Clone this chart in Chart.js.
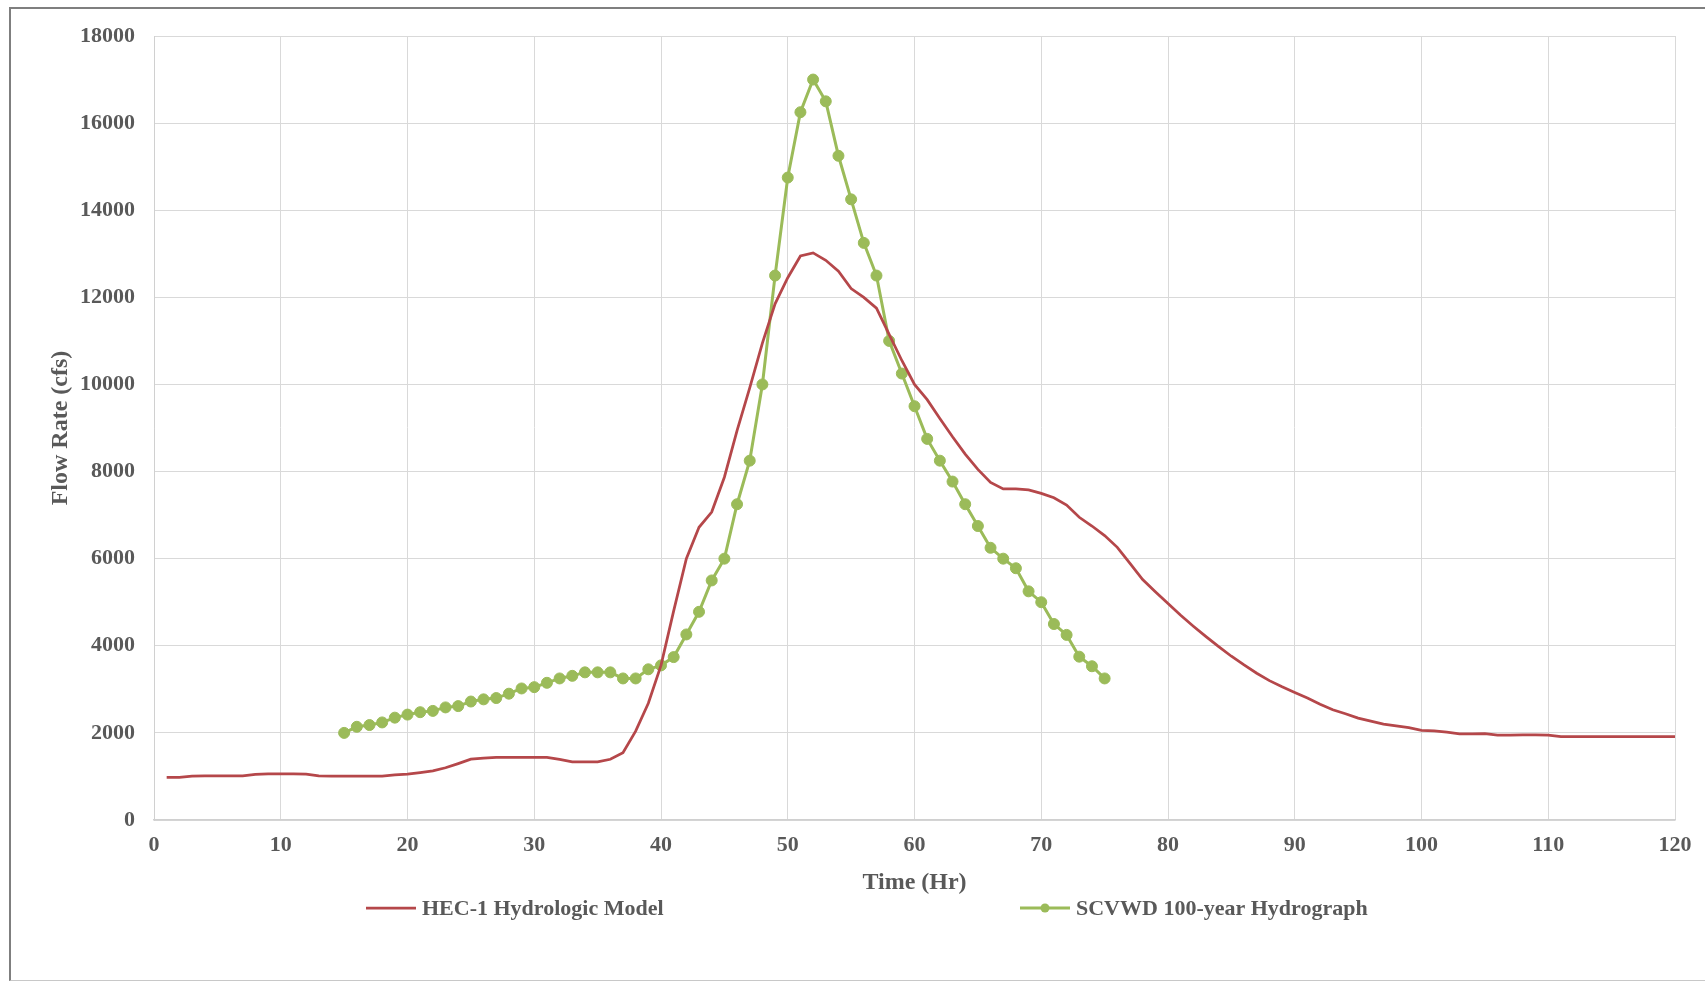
<!DOCTYPE html>
<html>
<head>
<meta charset="utf-8">
<title>Flow Rate vs Time</title>
<script src="https://cdn.jsdelivr.net/npm/chart.js@4.4.1/dist/chart.umd.min.js"></script>
<style>
	html, body { margin: 0; padding: 0; background: #ffffff; overflow: hidden; }
	#frame {
		position: absolute; left: 9px; top: 7px; width: 1760px; height: 971px;
		border-left: 2px solid #7f7f7f; border-top: 2px solid #7f7f7f; border-bottom: 1px solid #c8c8c8;
	}
	#chart { position: absolute; left: 0; top: 0; }
</style>
</head>
<body>
<div id="frame"></div>
<canvas id="chart" width="1705" height="981"></canvas>
<script>
// HEC-1 model, hourly from 1 to 120 hr
const hecHours = [
	1, 2, 3, 4, 5, 6, 7, 8, 9, 10, 11, 12, 13, 14, 15, 16, 17, 18, 19, 20,
	21, 22, 23, 24, 25, 26, 27, 28, 29, 30, 31, 32, 33, 34, 35, 36, 37, 38, 39, 40,
	41, 42, 43, 44, 45, 46, 47, 48, 49, 50, 51, 52, 53, 54, 55, 56, 57, 58, 59, 60,
	61, 62, 63, 64, 65, 66, 67, 68, 69, 70, 71, 72, 73, 74, 75, 76, 77, 78, 79, 80,
	81, 82, 83, 84, 85, 86, 87, 88, 89, 90, 91, 92, 93, 94, 95, 96, 97, 98, 99, 100,
	101, 102, 103, 104, 105, 106, 107, 108, 109, 110, 111, 112, 113, 114, 115, 116, 117, 118, 119, 120
];
const hecFlow = [
	980, 980, 1010, 1015, 1015, 1015, 1015, 1050, 1060, 1060,
	1060, 1055, 1015, 1010, 1010, 1010, 1010, 1010, 1035, 1055,
	1090, 1130, 1200, 1295, 1397, 1420, 1435, 1435, 1435, 1435,
	1435, 1390, 1336, 1336, 1336, 1395, 1545, 2040, 2680, 3550,
	4800, 6000, 6720, 7070, 7870, 8940, 9920, 10950, 11850, 12450,
	12950, 13020, 12850, 12600, 12200, 12000, 11750, 11150, 10550, 10000,
	9650, 9220, 8800, 8400, 8050, 7750, 7600, 7600, 7580, 7500,
	7400, 7230, 6950, 6750, 6530, 6260, 5890, 5520, 5240, 4970,
	4700, 4450, 4210, 3980, 3760, 3560, 3370, 3200, 3060, 2930,
	2800, 2660, 2530, 2440, 2340, 2270, 2200, 2160, 2120, 2060,
	2045, 2015, 1980, 1980, 1985, 1950, 1950, 1955, 1955, 1950,
	1915, 1915, 1915, 1915, 1915, 1915, 1915, 1915, 1915, 1915
];

// SCVWD 100-year hydrograph, hourly from 15 to 75 hr
const scvwdHours = [
	15, 16, 17, 18, 19, 20, 21, 22, 23, 24, 25, 26, 27, 28, 29, 30,
	31, 32, 33, 34, 35, 36, 37, 38, 39, 40, 41, 42, 43, 44, 45,
	46, 47, 48, 49, 50, 51, 52, 53, 54, 55, 56, 57, 58, 59, 60,
	61, 62, 63, 64, 65, 66, 67, 68, 69, 70, 71, 72, 73, 74, 75
];
const scvwdFlow = [
	2000, 2140, 2180, 2240, 2350, 2420, 2475, 2505, 2585, 2615, 2720, 2770, 2800, 2900, 3020, 3050,
	3150, 3250, 3310, 3390, 3390, 3390, 3250, 3250, 3460, 3550, 3740, 4260, 4780, 5500, 6000,
	7250, 8250, 10000, 12500, 14750, 16250, 17000, 16500, 15250, 14250, 13250, 12500, 11000, 10250, 9500,
	8750, 8250, 7770, 7250, 6750, 6250, 6000, 5780, 5250, 5000, 4500, 4250, 3750, 3530, 3250
];

const seriesNames = ['HEC-1 Hydrologic Model', 'SCVWD 100-year Hydrograph'];
const xTitle = 'Time (Hr)';
const yTitle = 'Flow Rate (cfs)';

const textColor = '#595959';
const serif = '"Liberation Serif", "Times New Roman", serif';

function toPoints(xs, ys) {
	return xs.map(function(x, i) { return {x: x, y: ys[i]}; });
}

// legend under the axis title, drawn by hand so the marker sits on its line
const bottomLegend = {
	id: 'bottomLegend',
	afterDraw: function(chart, args, opts) {
		const ctx = chart.ctx;
		ctx.save();
		ctx.font = 'bold 22px ' + serif;
		ctx.textBaseline = 'middle';
		chart.data.datasets.forEach(function(ds, i) {
			const x = opts.starts[i];
			const y = opts.y;
			ctx.strokeStyle = ds.borderColor;
			ctx.lineWidth = ds.borderWidth;
			ctx.beginPath();
			ctx.moveTo(x, y);
			ctx.lineTo(x + opts.lineLength, y);
			ctx.stroke();
			if (ds.pointRadius > 0) {
				ctx.fillStyle = ds.pointBackgroundColor;
				ctx.beginPath();
				ctx.arc(x + opts.lineLength / 2, y, 4.5, 0, Math.PI * 2);
				ctx.fill();
			}
			ctx.fillStyle = textColor;
			ctx.fillText(ds.label, x + opts.lineLength + opts.gap, y + 1);
		});
		ctx.restore();
	}
};

new Chart(document.getElementById('chart'), {
	type: 'line',
	data: {
		datasets: [{
			label: seriesNames[0],
			data: toPoints(hecHours, hecFlow),
			borderColor: '#b5474a',
			borderWidth: 2.75,
			pointRadius: 0,
			tension: 0
		}, {
			label: seriesNames[1],
			data: toPoints(scvwdHours, scvwdFlow),
			borderColor: '#9bbb59',
			borderWidth: 3,
			pointRadius: 5.5,
			pointBackgroundColor: '#9bbb59',
			pointBorderColor: '#9bbb59',
			pointBorderWidth: 1,
			tension: 0
		}]
	},
	options: {
		responsive: false,
		animation: false,
		layout: { padding: { left: 10, top: 36, right: 30, bottom: 0 } },
		plugins: {
			legend: { display: false },
			tooltip: { enabled: false },
			bottomLegend: { starts: [366, 1020], y: 908, lineLength: 50, gap: 6 }
		},
		scales: {
			x: {
				type: 'linear',
				min: 0,
				max: 120,
				ticks: {
					stepSize: 10,
					padding: 12,
					color: textColor,
					font: { family: serif, size: 22, weight: 'bold' },
					callback: function(v) { return String(v); }
				},
				grid: { color: '#d9d9d9', lineWidth: 1, drawTicks: false },
				border: { color: '#d0d0d0', width: 1.5 },
				title: {
					display: true,
					text: xTitle,
					color: textColor,
					font: { family: serif, size: 24, weight: 'bold' },
					padding: { top: 0, bottom: 84 }
				},
				afterFit: function(scale) { scale.height = 161; }
			},
			y: {
				min: 0,
				max: 18000,
				ticks: {
					stepSize: 2000,
					padding: 19,
					color: textColor,
					font: { family: serif, size: 22, weight: 'bold' },
					callback: function(v) { return String(v); }
				},
				grid: { color: '#d9d9d9', lineWidth: 1, drawTicks: false },
				border: { color: '#d0d0d0', width: 1 },
				title: {
					display: true,
					text: yTitle,
					color: textColor,
					font: { family: serif, size: 24, weight: 'bold' },
					padding: { top: 36, bottom: 0 }
				},
				afterFit: function(scale) { scale.width = 144; }
			}
		}
	},
	plugins: [bottomLegend]
});
</script>
</body>
</html>
